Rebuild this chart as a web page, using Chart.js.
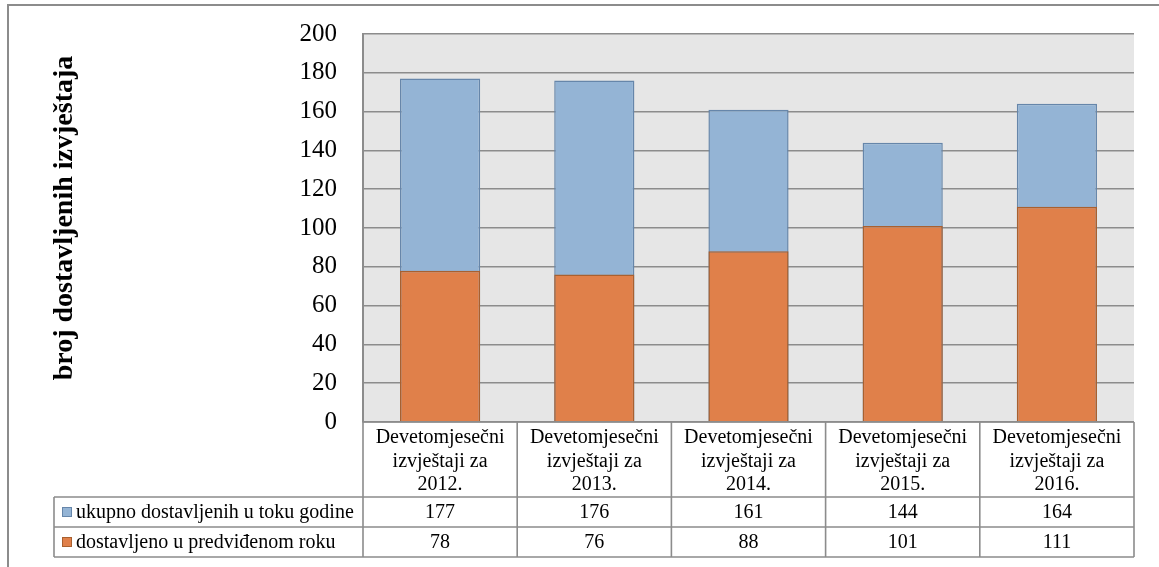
<!DOCTYPE html>
<html>
<head>
<meta charset="utf-8">
<script src="https://cdn.jsdelivr.net/npm/chart.js@4.4.1/dist/chart.umd.min.js"></script>
<style>
html,body{margin:0;padding:0;background:#fff;}
#wrap{width:1159px;height:567px;position:relative;}
</style>
</head>
<body>
<div id="wrap"><canvas id="c" width="1159" height="567"></canvas></div>
<script>
// ---- data ----
const categories = [
  ["Devetomjesečni", "izvještaji za", "2012."],
  ["Devetomjesečni", "izvještaji za", "2013."],
  ["Devetomjesečni", "izvještaji za", "2014."],
  ["Devetomjesečni", "izvještaji za", "2015."],
  ["Devetomjesečni", "izvještaji za", "2016."]
];
const seriesNames = ["ukupno dostavljenih u toku godine", "dostavljeno u predviđenom roku"];
const totalDelivered = [177, 176, 161, 144, 164];
const onTimeDelivered = [78, 76, 88, 101, 111];
const yAxisTitle = "broj dostavljenih izvještaja";
const yMin = 0, yMax = 200, yStep = 20;

// ---- styles ----
const BLUE = "#94b4d5", BLUE_B = "#6686aa";
const ORANGE = "#e0804a", ORANGE_B = "#a9602f";
const GRID = "#8c8c8c";
const SERIF = "'Liberation Serif', 'Times New Roman', serif";

const seriesValues = [totalDelivered, onTimeDelivered];
const seriesColors = [[BLUE, BLUE_B], [ORANGE, ORANGE_B]];

const tablePlugin = {
  id: 'tablePlugin',
  beforeDraw(chart) {
    const {ctx, chartArea: a} = chart;
    ctx.save();
    ctx.fillStyle = '#e6e6e6';
    ctx.fillRect(a.left, a.top, a.right - a.left, a.bottom - a.top);
    ctx.restore();
  },
  afterDraw(chart) {
    const {ctx, chartArea: a, scales} = chart;
    const xs = scales.x;
    const n = categories.length;
    const colW = (a.right - a.left) / n;
    const headerH = 75, rowH = 30;
    const legendLeft = 54;
    const yHead = a.bottom, yR1 = yHead + headerH, yR2 = yR1 + rowH, yEnd = yR2 + rowH;
    ctx.save();
    // outer frame
    ctx.strokeStyle = GRID;
    ctx.lineWidth = 2;
    ctx.strokeRect(8, 5, 1300, 700);
    // y axis title
    ctx.save();
    ctx.translate(65, 218);
    ctx.rotate(-Math.PI / 2);
    ctx.fillStyle = '#000';
    ctx.font = "bold 28px " + SERIF;
    ctx.textAlign = 'center';
    ctx.textBaseline = 'middle';
    ctx.fillText(yAxisTitle, 0, 0);
    ctx.restore();
    // table grid
    ctx.lineWidth = 1.6;
    ctx.beginPath();
    ctx.moveTo(a.left, yHead); ctx.lineTo(a.right, yHead);
    [yR1, yR2, yEnd].forEach(y => { ctx.moveTo(legendLeft, y); ctx.lineTo(a.right, y); });
    ctx.moveTo(legendLeft, yR1); ctx.lineTo(legendLeft, yEnd);
    for (let i = 0; i <= n; i++) {
      const x = i < n ? xs.getPixelForValue(i) - colW / 2 : xs.getPixelForValue(n - 1) + colW / 2;
      ctx.moveTo(x, yHead); ctx.lineTo(x, yEnd);
    }
    ctx.stroke();
    // header text
    ctx.fillStyle = '#000';
    ctx.font = "20px " + SERIF;
    ctx.textAlign = 'center';
    ctx.textBaseline = 'middle';
    categories.forEach((lines, i) => {
      const cx = xs.getPixelForValue(i);
      lines.forEach((t, k) => ctx.fillText(t, cx, yHead + 16 + k * 23.5));
    });
    // value rows
    [yR1, yR2].forEach((ry, s) => {
      const vals = seriesValues[s];
      vals.forEach((v, i) => ctx.fillText(String(v), xs.getPixelForValue(i), ry + rowH / 2 + 1));
      // legend key
      const [fill, border] = seriesColors[s];
      ctx.fillStyle = fill;
      ctx.fillRect(62, ry + rowH / 2 - 5, 10, 10);
      ctx.strokeStyle = border;
      ctx.lineWidth = 1;
      ctx.strokeRect(62.5, ry + rowH / 2 - 4.5, 9, 9);
      ctx.fillStyle = '#000';
      ctx.textAlign = 'left';
      ctx.fillText(seriesNames[s], 76, ry + rowH / 2 + 1);
      ctx.textAlign = 'center';
    });
    ctx.restore();
  }
};

new Chart(document.getElementById('c'), {
  type: 'bar',
  data: {
    labels: categories,
    datasets: [
      { label: seriesNames[0], data: totalDelivered, backgroundColor: BLUE, borderColor: BLUE_B,
        borderWidth: 1.5, grouped: false, order: 2, barPercentage: 0.52, categoryPercentage: 1 },
      { label: seriesNames[1], data: onTimeDelivered, backgroundColor: ORANGE, borderColor: ORANGE_B,
        borderWidth: 1.5, grouped: false, order: 1, barPercentage: 0.52, categoryPercentage: 1 }
    ]
  },
  options: {
    responsive: false,
    animation: false,
    layout: { padding: { left: 0, right: 25, top: 34, bottom: 145 } },
    plugins: { legend: { display: false }, tooltip: { enabled: false }, title: { display: false } },
    scales: {
      x: { display: false, offset: true },
      y: {
        min: yMin, max: yMax,
        afterFit(scale) { scale.width = 363; scale.paddingTop = 10; scale.paddingBottom = 10; },
        ticks: { stepSize: yStep, color: '#000', padding: 26, font: { family: SERIF, size: 25 } },
        grid: { color: GRID, lineWidth: 1.5, drawTicks: false },
        border: { display: true, color: GRID, width: 2 },
        title: { display: false }
      }
    }
  },
  plugins: [tablePlugin]
});
</script>
</body>
</html>
